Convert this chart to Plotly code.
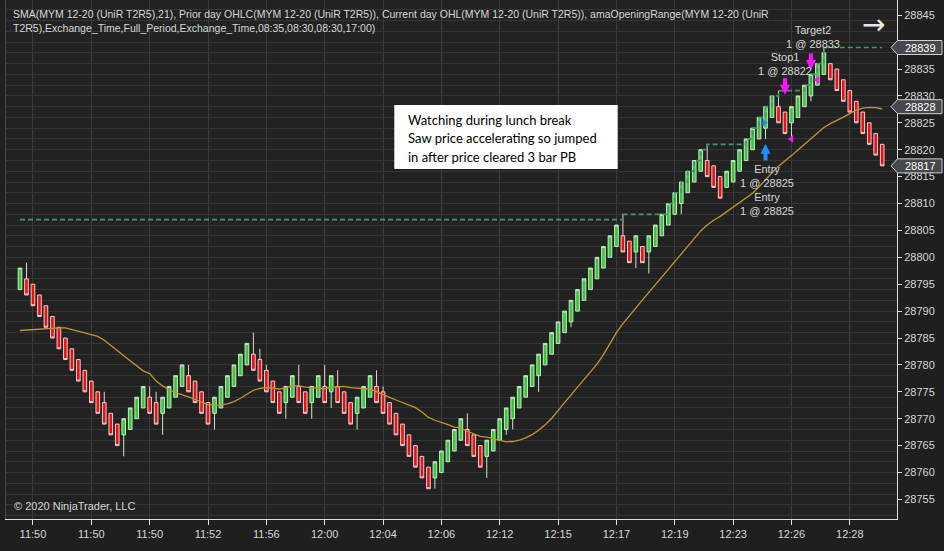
import numpy as np
import pandas as pd
import plotly.graph_objects as go

# renko bars (UniRenko T2R5)
opens = [28794, 28796, 28795, 28793, 28791, 28789, 28787, 28785, 28783, 28781,
         28779, 28777, 28775, 28773, 28771, 28769, 28767, 28768, 28770, 28772,
         28774, 28773, 28771, 28772, 28774, 28776, 28778, 28777, 28775, 28773,
         28771, 28772, 28774, 28776, 28778, 28780, 28782, 28781, 28779, 28777,
         28775, 28773, 28774, 28776, 28775, 28773, 28774, 28776, 28775, 28776,
         28775, 28773, 28771, 28772, 28774, 28776, 28775, 28773, 28771, 28769,
         28767, 28765, 28763, 28761, 28759, 28760, 28762, 28764, 28766, 28768,
         28767, 28765, 28763, 28764, 28766, 28768, 28770, 28772, 28774, 28776,
         28778, 28780, 28782, 28784, 28786, 28788, 28790, 28792, 28794, 28796,
         28798, 28800, 28802, 28804, 28803, 28801, 28802, 28801, 28802, 28804,
         28806, 28808, 28810, 28812, 28814, 28816, 28818, 28817, 28815, 28813,
         28814, 28816, 28818, 28820, 28822, 28824, 28826, 28828, 28827, 28825,
         28826, 28828, 28830, 28832, 28834, 28836, 28835, 28833, 28831, 28829,
         28827, 28825, 28823, 28821]
closes = [28798, 28793, 28791, 28789, 28787, 28785, 28783, 28781, 28779, 28777,
          28775, 28773, 28771, 28769, 28767, 28765, 28770, 28772, 28774, 28776,
          28771, 28769, 28774, 28776, 28778, 28780, 28775, 28773, 28771, 28769,
          28774, 28776, 28778, 28780, 28782, 28784, 28779, 28777, 28775, 28773,
          28771, 28776, 28778, 28773, 28771, 28776, 28778, 28773, 28778, 28773,
          28771, 28769, 28774, 28776, 28778, 28773, 28771, 28769, 28767, 28765,
          28763, 28761, 28759, 28757, 28762, 28764, 28766, 28768, 28770, 28765,
          28763, 28761, 28766, 28768, 28770, 28772, 28774, 28776, 28778, 28780,
          28782, 28784, 28786, 28788, 28790, 28792, 28794, 28796, 28798, 28800,
          28802, 28804, 28806, 28801, 28799, 28804, 28799, 28804, 28806, 28808,
          28810, 28812, 28814, 28816, 28818, 28820, 28815, 28813, 28811, 28816,
          28818, 28820, 28822, 28824, 28826, 28828, 28830, 28825, 28823, 28828,
          28830, 28832, 28834, 28836, 28838, 28833, 28831, 28829, 28827, 28825,
          28823, 28821, 28819, 28817]
highs = [28798, 28799, 28795, 28793, 28791, 28789, 28787, 28785, 28783, 28781,
         28779, 28777, 28775, 28775, 28771, 28769, 28770, 28772, 28774, 28776,
         28776, 28775, 28774, 28776, 28778, 28780, 28780, 28777, 28775, 28773,
         28774, 28776, 28778, 28780, 28782, 28784, 28786, 28783, 28780, 28777,
         28775, 28776, 28778, 28780, 28775, 28776, 28778, 28780, 28778, 28779,
         28775, 28773, 28774, 28776, 28778, 28779, 28776, 28773, 28771, 28769,
         28767, 28765, 28763, 28761, 28762, 28764, 28766, 28768, 28770, 28771,
         28767, 28765, 28766, 28768, 28770, 28772, 28774, 28776, 28778, 28780,
         28782, 28784, 28786, 28788, 28790, 28792, 28794, 28796, 28798, 28800,
         28802, 28804, 28806, 28808, 28803, 28804, 28802, 28804, 28806, 28808,
         28810, 28812, 28814, 28816, 28818, 28820, 28821, 28817, 28815, 28816,
         28818, 28820, 28822, 28824, 28826, 28828, 28830, 28831, 28827, 28828,
         28830, 28832, 28834, 28836, 28839, 28836, 28835, 28833, 28831, 28829,
         28827, 28825, 28823, 28821]
lows = [28794, 28793, 28791, 28789, 28787, 28785, 28783, 28781, 28779, 28777,
        28775, 28773, 28771, 28769, 28767, 28765, 28763, 28768, 28770, 28772,
        28771, 28769, 28767, 28772, 28774, 28776, 28775, 28773, 28771, 28769,
        28768, 28772, 28774, 28776, 28778, 28780, 28779, 28777, 28775, 28773,
        28771, 28770, 28774, 28773, 28771, 28770, 28774, 28773, 28772, 28773,
        28771, 28769, 28768, 28772, 28774, 28773, 28771, 28769, 28767, 28765,
        28763, 28761, 28759, 28757, 28757, 28760, 28762, 28764, 28766, 28765,
        28763, 28761, 28759, 28764, 28766, 28767, 28768, 28772, 28774, 28776,
        28775, 28780, 28782, 28784, 28786, 28787, 28790, 28792, 28794, 28796,
        28798, 28800, 28802, 28801, 28799, 28798, 28799, 28797, 28802, 28804,
        28806, 28808, 28808, 28812, 28814, 28816, 28815, 28813, 28811, 28813,
        28814, 28816, 28818, 28820, 28822, 28822, 28826, 28825, 28823, 28822,
        28826, 28828, 28829, 28832, 28834, 28833, 28831, 28829, 28827, 28825,
        28823, 28821, 28819, 28817]

# SMA(21) before enough bars are on screen
sma_head = [28786.4, 28786.5, 28786.5, 28786.7, 28786.8, 28786.9, 28786.9, 28786.9,
            28786.6, 28786.2, 28786.0, 28785.6, 28785.3, 28784.6, 28783.7, 28782.7,
            28781.7, 28780.8, 28779.8, 28778.9]
prior_day_high = 28807

time_labels = ['11:50', '11:50', '11:50', '11:52', '11:56', '12:00', '12:04', '12:06',
               '12:12', '12:15', '12:17', '12:19', '12:23', '12:26', '12:28']

# executions
entry_bar, entry_price = 115, 28825
stop_bar, stop_price = 119, 28822
target_bar, target_price = 123, 28833

header = ("SMA(MYM 12-20 (UniR T2R5),21), Prior day OHLC(MYM 12-20 (UniR T2R5)), Current day OHL(MYM 12-20 (UniR T2R5)), amaOpeningRange(MYM 12-20 (UniR<br>"
          "T2R5),Exchange_Time,Full_Period,Exchange_Time,08:35,08:30,08:30,17:00)")
note_lines = ["Watching during lunch break", "Saw price accelerating so jumped",
              "in after price cleared 3 bar PB"]

n = len(closes)
x = np.arange(n)
sma = pd.Series(closes).rolling(21).mean().to_numpy()
sma[:20] = sma_head
day_high = np.maximum(prior_day_high, np.maximum.accumulate(highs))
markers = [day_high[-1], round(sma[-1]), closes[-1]]

W, H = 944, 551
ML, MR, MT, MB = 6, 47, 0, 32
PW, PH = W - ML - MR, H - MT - MB
YR = [28751.36, 28847.83]
XR = [-2.16, 135.28]
ppu = PH / (YR[1] - YR[0])


def fx(px):
    return (px - ML) / PW


def fy(py):
    return 1 - (py - MT) / PH


TXT = '#d6d6d6'
FONT = 'Liberation Sans'

fig = go.Figure()
fig.add_trace(go.Scatter(x=x, y=day_high, mode='lines', line_shape='hv',
                         line=dict(color='#3a9a64', width=1.7, dash='5px,3px'), hoverinfo='skip'))
fig.add_trace(go.Candlestick(x=x, open=opens, high=highs, low=lows, close=closes,
                             increasing=dict(fillcolor='#3cc63c', line=dict(color='#c4ecc4', width=1)),
                             decreasing=dict(fillcolor='#ec1010', line=dict(color='#f4cccc', width=1))))
fig.add_trace(go.Scatter(x=x, y=sma, mode='lines', line=dict(color='#c2962e', width=1.3), hoverinfo='skip'))


def arrow(bar, tip, color, up):
    d = -1 if up else 1
    head = 'arrow-up' if up else 'arrow-down'
    fig.add_trace(go.Scatter(x=[bar], y=[tip], mode='markers',
                             marker=dict(symbol=head, size=10, color=color, line=dict(width=0))))
    fig.add_trace(go.Scatter(x=[bar], y=[tip + d * 12.5 / ppu], mode='markers',
                             marker=dict(symbol='line-ns', size=6, line=dict(width=4, color=color))))


arrow(entry_bar, 28821.1, '#1e8fff', True)
arrow(stop_bar - 1, 28830.2, '#ff10ff', False)
arrow(target_bar - 1, 28834.8, '#ff10ff', False)
fig.add_trace(go.Scatter(x=[entry_bar - 0.2], y=[entry_price], mode='markers',
                         marker=dict(symbol='triangle-right', size=7, color='#1e8fff')))
fig.add_trace(go.Scatter(x=[stop_bar, target_bar], y=[stop_price, target_price], mode='markers',
                         marker=dict(symbol='triangle-left', size=7, color='#ff10ff')))

# trade labels
for bx, py, txt in [(entry_bar + 0.3, 176, f"Entry<br>1 @ {entry_price}"),
                    (entry_bar + 0.3, 204, f"Entry<br>1 @ {entry_price}"),
                    (stop_bar - 1, 64, f"Stop1<br>1 @ {stop_price}"),
                    (target_bar - 0.7, 37, f"Target2<br>1 @ {target_price}")]:
    fig.add_annotation(x=bx, y=fy(py), xref='x', yref='paper', text=txt, showarrow=False,
                       xanchor='center', yanchor='middle',
                       font=dict(family=FONT, size=11, color=TXT), align='center')

# right-axis price markers
for v in markers:
    h = 7 / ppu
    fig.add_shape(type='path', xref='paper', yref='y', layer='above',
                  path=f"M {fx(891)},{v} L {fx(897.5)},{v + h} L {fx(942)},{v + h} L {fx(942)},{v - h} L {fx(897.5)},{v - h} Z",
                  fillcolor='#47474c', line=dict(color='#cfcfcf', width=1))
    fig.add_annotation(x=fx(920), y=v, xref='paper', yref='y', text=str(int(v)), showarrow=False,
                       xanchor='center', yanchor='middle',
                       font=dict(family=FONT, size=11, color='#ffffff'))

# price ticks, the ones hidden under a marker left out
yticks = [t for t in range(28755, 28850, 5) if min(abs(t - v) for v in markers) > 1.5]

# note box
fig.add_shape(type='rect', xref='paper', yref='paper', x0=fx(394.3), x1=fx(617.7),
              y0=fy(169), y1=fy(105), fillcolor='white', line=dict(width=0), layer='above')
for k, line in enumerate(note_lines):
    fig.add_annotation(x=fx(405.5), y=fy(120 + 18.3 * k), xref='paper', yref='paper', text=line,
                       showarrow=False, xanchor='left', yanchor='middle',
                       font=dict(family='Lato', size=13, color='black'))

fig.add_annotation(x=fx(11), y=fy(6), xref='paper', yref='paper', text=header, showarrow=False,
                   xanchor='left', yanchor='top', align='left',
                   font=dict(family=FONT, size=10.5, color=TXT))
fig.add_annotation(x=fx(12), y=fy(506), xref='paper', yref='paper', text="© 2020 NinjaTrader, LLC",
                   showarrow=False, xanchor='left', yanchor='middle',
                   font=dict(family=FONT, size=11, color=TXT))
fig.add_annotation(x=fx(873), y=fy(25), xref='paper', yref='paper', text="→", showarrow=False,
                   xanchor='center', yanchor='middle',
                   font=dict(family='DejaVu Sans', size=28, color='#e8e8e8'))

fig.update_layout(
    width=W, height=H, margin=dict(l=ML, r=MR, t=MT, b=MB), boxgap=0.2,
    paper_bgcolor='#1f1f1f', plot_bgcolor='#222222', showlegend=False,
    xaxis=dict(range=XR, rangeslider=dict(visible=False), tickvals=list(range(2, n, 9)),
               ticktext=time_labels, showgrid=True, gridcolor='#3a3a3a', zeroline=False,
               ticks='outside', ticklen=5, tickcolor='#e0e0e0', showline=True, linecolor='#e0e0e0',
               tickfont=dict(family=FONT, size=11, color=TXT)),
    yaxis=dict(range=YR, dtick=2, tick0=0, showgrid=True, gridcolor='#353535', zeroline=False,
               showticklabels=False, ticks='', showline=True, linecolor='#4a4a4a'),
    yaxis2=dict(overlaying='y', matches='y', side='right', tickvals=yticks, showgrid=False,
                zeroline=False, ticks='outside', ticklen=4, tickcolor='#e0e0e0', showline=True,
                linecolor='#e0e0e0', tickformat='d', tickfont=dict(family=FONT, size=11, color=TXT)),
)
# invisible trace so the right axis is drawn
fig.add_trace(go.Scatter(x=[x[0]], y=[closes[0]], yaxis='y2', mode='markers',
                         marker=dict(opacity=0), hoverinfo='skip'))

fig.write_html("out.html", config={'displayModeBar': False},
               post_script="document.body.style.margin='0';")
